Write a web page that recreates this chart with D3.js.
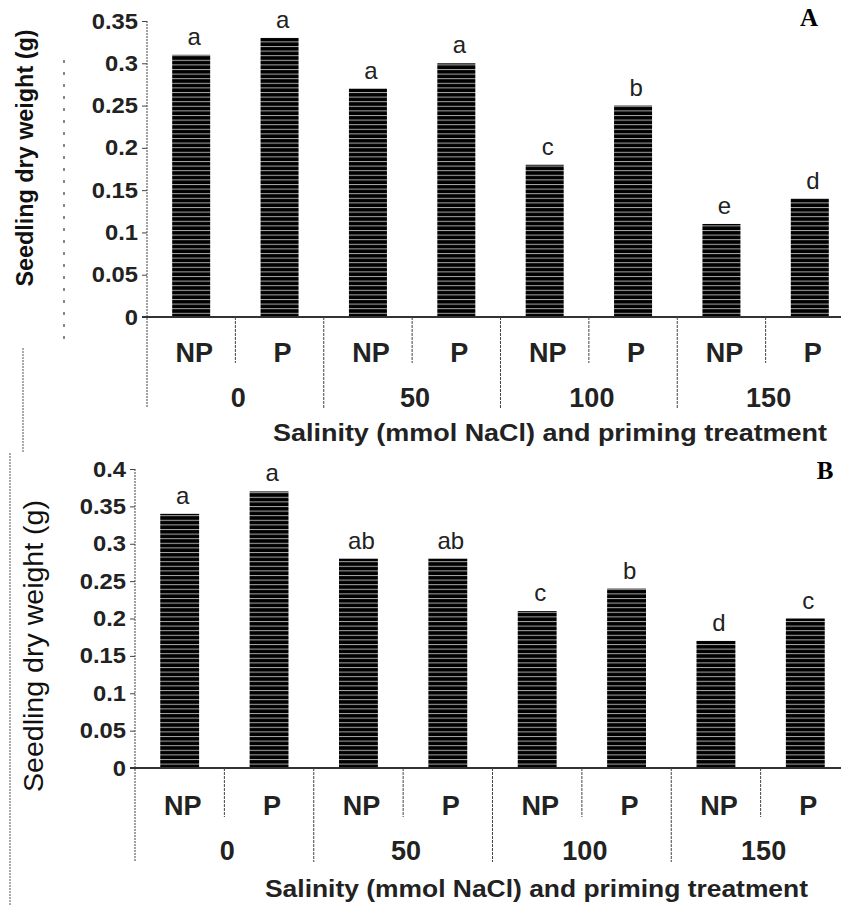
<!DOCTYPE html>
<html>
<head>
<meta charset="utf-8">
<script src="https://cdn.jsdelivr.net/npm/d3@7"></script>
<style>
  body { margin: 0; background: #fff; }
  svg { display: block; font-family: 'Liberation Sans', Arial, sans-serif; }
</style>
</head>
<body>
<svg id="chart" width="841" height="905"></svg>
<script>
// ---- data ----
const salinity = ['0', '50', '100', '150']
const priming = ['NP', 'P']

const weightA = [0.31, 0.33, 0.27, 0.30, 0.18, 0.25, 0.11, 0.14]
const lettersA = ['a', 'a', 'a', 'a', 'c', 'b', 'e', 'd']
const ticksA = [0, 0.05, 0.1, 0.15, 0.2, 0.25, 0.3, 0.35]

const weightB = [0.34, 0.37, 0.28, 0.28, 0.21, 0.24, 0.17, 0.20]
const lettersB = ['a', 'a', 'ab', 'ab', 'c', 'b', 'd', 'c']
const ticksB = [0, 0.05, 0.1, 0.15, 0.2, 0.25, 0.3, 0.35, 0.4]

const yTitle = 'Seedling dry weight (g)'
const xTitle = 'Salinity (mmol NaCl) and priming treatment'

const cats = salinity.flatMap(s => priming.map(p => s + '|' + p))

const svg = d3.select('#chart')

// horizontal stripe fill of the bars
const pat = svg.append('defs').append('pattern')
  .attr('id', 'stripes')
  .attr('patternUnits', 'userSpaceOnUse')
  .attr('width', 10)
  .attr('height', 4.6)
pat.append('rect').attr('width', 10).attr('height', 4.6).attr('fill', '#000')
pat.append('rect').attr('width', 10).attr('height', 1).attr('fill', '#a8a8a8')

// widen / narrow text to the proportions of the scanned figure
function stretch (sel, k) {
  sel.each(function () {
    const w = this.getComputedTextLength()
    d3.select(this).attr('textLength', w * k).attr('lengthAdjust', 'spacingAndGlyphs')
  })
}

function drawPanel (p) {
  const g = svg.append('g')

  const y = d3.scaleLinear().domain([0, p.yMax]).range([p.yBase, p.yTop])
  const x = d3.scaleBand().domain(cats).range([p.x0, p.x1])
    .paddingInner(p.pad).paddingOuter(p.pad / 2)
  const bw = x.bandwidth()
  const edge = i => x(cats[i]) - (x.step() - bw) / 2

  // y axis
  const yAxis = g.append('g')
    .attr('transform', `translate(${p.x0},0)`)
    .call(d3.axisLeft(y).tickValues(p.ticks).tickSize(5).tickPadding(4).tickFormat(d => String(d)))
    .attr('font-size', 22)
    .attr('font-family', null)
  yAxis.select('.domain').remove()
  yAxis.selectAll('line').attr('stroke', '#444')
  yAxis.selectAll('text').attr('fill', '#222').attr('font-weight', 'bold')
  stretch(yAxis.selectAll('text'), 1.08)

  g.append('line')
    .attr('x1', p.x0).attr('x2', p.x0)
    .attr('y1', p.yTop).attr('y2', p.groupBottom)
    .attr('stroke', '#444').attr('stroke-dasharray', '2,1')

  // bars
  g.selectAll('rect.bar')
    .data(p.values)
    .join('rect')
    .attr('class', 'bar')
    .attr('x', (d, i) => x(cats[i]))
    .attr('y', d => y(d))
    .attr('width', bw)
    .attr('height', d => p.yBase - y(d))
    .attr('fill', 'url(#stripes)')

  g.append('line')
    .attr('x1', p.x0 - 5).attr('x2', 841)
    .attr('y1', p.yBase).attr('y2', p.yBase)
    .attr('stroke', '#333').attr('stroke-width', 2)

  // significance letters
  g.selectAll('text.sig')
    .data(p.values)
    .join('text')
    .attr('class', 'sig')
    .attr('x', (d, i) => x(cats[i]) + bw / 2 + 3)
    .attr('y', d => y(d) - 10)
    .attr('text-anchor', 'middle')
    .attr('font-size', 24)
    .attr('fill', '#222')
    .text((d, i) => p.letters[i])

  // category table under the axis
  d3.range(1, cats.length).forEach(i => {
    g.append('line')
      .attr('x1', edge(i)).attr('x2', edge(i))
      .attr('y1', p.yBase).attr('y2', i % 2 === 0 ? p.groupBottom : p.rowBottom)
      .attr('stroke', '#444').attr('stroke-dasharray', '3,1')
  })

  g.selectAll('text.prim')
    .data(cats)
    .join('text')
    .attr('class', 'prim')
    .attr('x', d => x(d) + bw / 2 + 3)
    .attr('y', p.rowY)
    .attr('text-anchor', 'middle')
    .attr('font-size', 27)
    .attr('font-weight', 'bold')
    .attr('fill', '#222')
    .text(d => d.split('|')[1])

  g.selectAll('text.sal')
    .data(salinity)
    .join('text')
    .attr('class', 'sal')
    .attr('x', (d, k) => (x(cats[2 * k]) + x(cats[2 * k + 1]) + bw) / 2 + 3)
    .attr('y', p.groupY)
    .attr('text-anchor', 'middle')
    .attr('font-size', 27)
    .attr('font-weight', 'bold')
    .attr('fill', '#222')
    .text(d => d)

  g.append('text')
    .attr('x', p.xTitleX)
    .attr('y', p.xTitleY)
    .attr('font-size', 24)
    .attr('font-weight', 'bold')
    .attr('fill', '#222')
    .attr('textLength', p.xTitleLen)
    .attr('lengthAdjust', 'spacingAndGlyphs')
    .text(xTitle)

  g.append('text')
    .attr('transform', `translate(${p.yTitleX},${p.yTitleY}) rotate(-90)`)
    .attr('text-anchor', 'middle')
    .attr('font-size', p.yTitleSize)
    .attr('font-weight', p.yTitleWeight)
    .attr('fill', '#111')
    .attr('textLength', p.yTitleLen)
    .attr('lengthAdjust', 'spacingAndGlyphs')
    .text(yTitle)

  g.append('text')
    .attr('x', p.tagX)
    .attr('y', p.tagY)
    .attr('text-anchor', 'middle')
    .attr('font-family', "'Liberation Serif', 'Times New Roman', serif")
    .attr('font-weight', 'bold')
    .attr('font-size', 25)
    .text(p.tag)
}

drawPanel({
  values: weightA, letters: lettersA, ticks: ticksA, yMax: 0.35,
  x0: 147, x1: 854, pad: 0.57, yTop: 21, yBase: 317,
  rowBottom: 363, groupBottom: 408, rowY: 362, groupY: 407,
  xTitleX: 273, xTitleY: 441, xTitleLen: 554,
  yTitleX: 33, yTitleY: 158, yTitleLen: 257, yTitleSize: 24, yTitleWeight: 'bold',
  tag: 'A', tagX: 809, tagY: 26
})

drawPanel({
  values: weightB, letters: lettersB, ticks: ticksB, yMax: 0.4,
  x0: 135, x1: 850, pad: 0.565, yTop: 469, yBase: 768,
  rowBottom: 817, groupBottom: 862, rowY: 815, groupY: 860,
  xTitleX: 265, xTitleY: 897, xTitleLen: 543,
  yTitleX: 43, yTitleY: 646, yTitleLen: 292, yTitleSize: 27, yTitleWeight: 'normal',
  tag: 'B', tagX: 825, tagY: 479
})

// scan leftovers at the left margin
const marks = svg.append('g').attr('stroke', '#555').attr('fill', 'none')
marks.append('line').attr('x1', 64).attr('x2', 64).attr('y1', 60).attr('y2', 342)
  .attr('stroke', '#888').attr('stroke-width', 2).attr('stroke-dasharray', '3,9')
marks.append('line').attr('x1', 23).attr('x2', 23).attr('y1', 348).attr('y2', 452)
  .attr('stroke-dasharray', '2,1')
marks.append('line').attr('x1', 10).attr('x2', 10).attr('y1', 453).attr('y2', 905)
  .attr('stroke-dasharray', '2,1')
</script>
</body>
</html>
